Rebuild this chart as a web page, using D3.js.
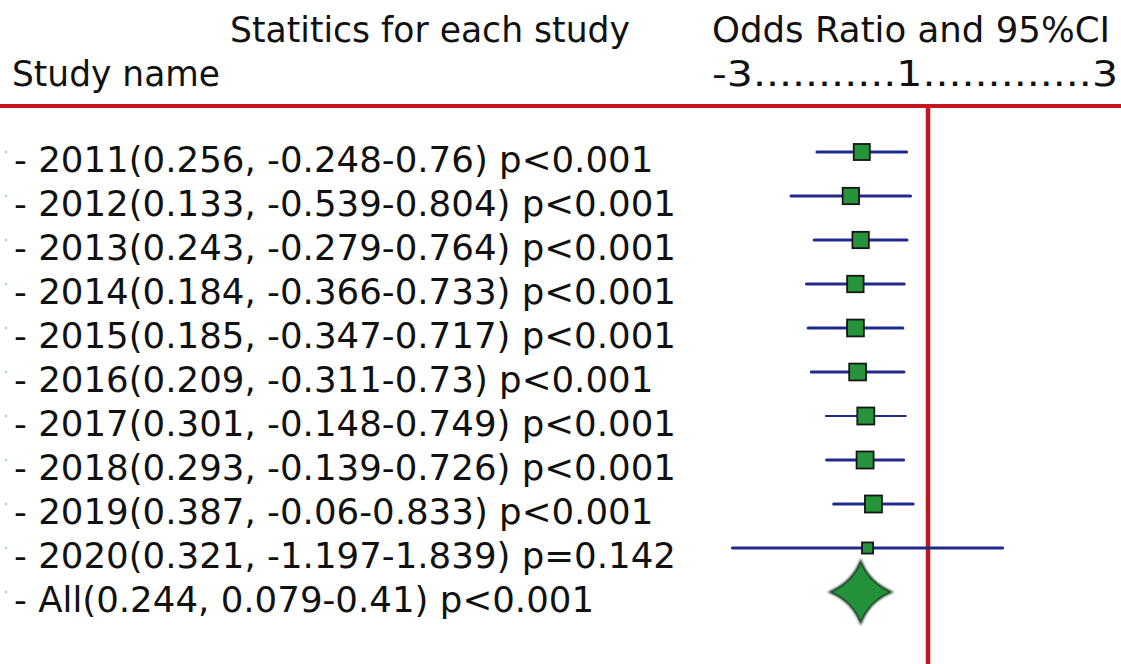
<!DOCTYPE html>
<html>
<head>
<meta charset="utf-8">
<script src="https://cdn.jsdelivr.net/npm/d3@7"></script>
<style>
  body { margin: 0; background: #fff; }
  svg { display: block; }
  text { font-family: "DejaVu Sans", Verdana, sans-serif; fill: #111; }
</style>
</head>
<body>
<svg id="chart" width="1121" height="664"></svg>
<script>
// study rows
var studies = ["2011", "2012", "2013", "2014", "2015", "2016", "2017", "2018", "2019", "2020"];
var estimates = [0.256, 0.133, 0.243, 0.184, 0.185, 0.209, 0.301, 0.293, 0.387, 0.321];
var lowers = [-0.248, -0.539, -0.279, -0.366, -0.347, -0.311, -0.148, -0.139, -0.06, -1.197];
var uppers = [0.76, 0.804, 0.764, 0.733, 0.717, 0.73, 0.749, 0.726, 0.833, 1.839];
var pvals = ["p<0.001", "p<0.001", "p<0.001", "p<0.001", "p<0.001", "p<0.001", "p<0.001", "p<0.001", "p<0.001", "p=0.142"];
// relative weights (box size)
var weights = [10.0, 10.4, 10.4, 10.5, 11.0, 11.0, 11.2, 11.2, 11.2, 4.8];

// pooled
var pooledName = "All";
var pooledEst = 0.244, pooledLow = 0.079, pooledHigh = 0.41, pooledP = "p<0.001";

var axisDomain = [-3, 3];
var refValue = 1;

var svg = d3.select("#chart");
var W = 1121, H = 664;

var x = d3.scaleLinear().domain(axisDomain).range([572, 1106]);
var rows = studies.concat([pooledName]);
var y = d3.scalePoint().domain(rows).range([152, 592]);
var boxSize = d3.scaleSqrt().domain([0, 11.2]).range([0, 17]);

var data = studies.map(function(s, i) {
  return {name: s, est: estimates[i], lo: lowers[i], hi: uppers[i], p: pvals[i], w: weights[i]};
});

var red = "#c4161c";

// header text
function header(tx, ty, len, str) {
  svg.append("text").attr("x", tx).attr("y", ty).attr("font-size", 36)
    .attr("textLength", len).attr("lengthAdjust", "spacingAndGlyphs")
    .text(str);
}
header(230, 42, 400, "Statitics for each study");
header(12, 86, 208, "Study name");
header(712, 42, 398, "Odds Ratio and 95%CI");
header(712, 86, 406, axisDomain[0] + "..........." + refValue + "............." + axisDomain[1]);

// red rules
svg.append("line").attr("x1", 0).attr("x2", W).attr("y1", 106).attr("y2", 106)
  .attr("stroke", red).attr("stroke-width", 4);
svg.append("line").attr("x1", x(refValue)).attr("x2", x(refValue)).attr("y1", 106).attr("y2", H)
  .attr("stroke", red).attr("stroke-width", 4.5);

// row labels
function label(name, est, lo, hi, p) {
  return "- " + name + "(" + est + ", " + lo + "-" + hi + ") " + p;
}
var labelG = svg.append("g");
var allRows = data.concat([{name: pooledName, est: pooledEst, lo: pooledLow, hi: pooledHigh, p: pooledP}]);
var labels = labelG.selectAll("text").data(allRows).enter().append("text")
  .attr("x", 14)
  .attr("y", function(d) { return y(d.name) + 20; })
  .attr("font-size", 35)
  .text(function(d) { return label(d.name, d.est, d.lo, d.hi, d.p); });
// the 2012 row is 662px wide in the original, stretch all rows by the same factor
var stretch = 662 / labels.filter(function(d) { return d.name === "2012"; }).node().getComputedTextLength();
labels.each(function() {
  var w = this.getComputedTextLength();
  d3.select(this).attr("textLength", w * stretch).attr("lengthAdjust", "spacingAndGlyphs");
});

// tiny row markers at left edge
labelG.selectAll("rect").data(allRows).enter().append("rect")
  .attr("x", 5).attr("y", function(d) { return y(d.name) - 1; })
  .attr("width", 2).attr("height", 2).attr("fill", "#9fd8a8");

// CI lines
var plotG = svg.append("g");
plotG.selectAll("line.ci").data(data).enter().append("line")
  .attr("class", "ci")
  .attr("x1", function(d) { return x(d.lo); })
  .attr("x2", function(d) { return x(d.hi); })
  .attr("y1", function(d) { return y(d.name); })
  .attr("y2", function(d) { return y(d.name); })
  .attr("stroke", "#1f2a8a")
  .attr("stroke-width", function(d) { return d.name === "2017" ? 2 : 3; })
  .attr("stroke-linecap", "round");

// boxes
plotG.selectAll("rect.box").data(data).enter().append("rect")
  .attr("class", "box")
  .attr("x", function(d) { return x(d.est) - boxSize(d.w) / 2; })
  .attr("y", function(d) { return y(d.name) - boxSize(d.w) / 2; })
  .attr("width", function(d) { return boxSize(d.w); })
  .attr("height", function(d) { return boxSize(d.w); })
  .attr("fill", "#27943b")
  .attr("stroke", "#161616")
  .attr("stroke-width", 1.8);

// pooled diamond (concave)
var defs = svg.append("defs");
defs.append("filter").attr("id", "soft")
  .append("feGaussianBlur").attr("stdDeviation", 1.2);
var cx = x(pooledEst), cy = y(pooledName), r = 29, k = r * 0.3;
var dPath = d3.path();
dPath.moveTo(cx, cy - r);
dPath.quadraticCurveTo(cx + k, cy - k, cx + r, cy);
dPath.quadraticCurveTo(cx + k, cy + k, cx, cy + r);
dPath.quadraticCurveTo(cx - k, cy + k, cx - r, cy);
dPath.quadraticCurveTo(cx - k, cy - k, cx, cy - r);
dPath.closePath();
plotG.append("path").attr("d", dPath.toString())
  .attr("fill", "none").attr("stroke", "#10301a").attr("stroke-width", 3.5)
  .attr("filter", "url(#soft)");
plotG.append("path").attr("d", dPath.toString())
  .attr("fill", "#23913a").attr("stroke", "#1a4a22").attr("stroke-width", 1);
</script>
</body>
</html>
